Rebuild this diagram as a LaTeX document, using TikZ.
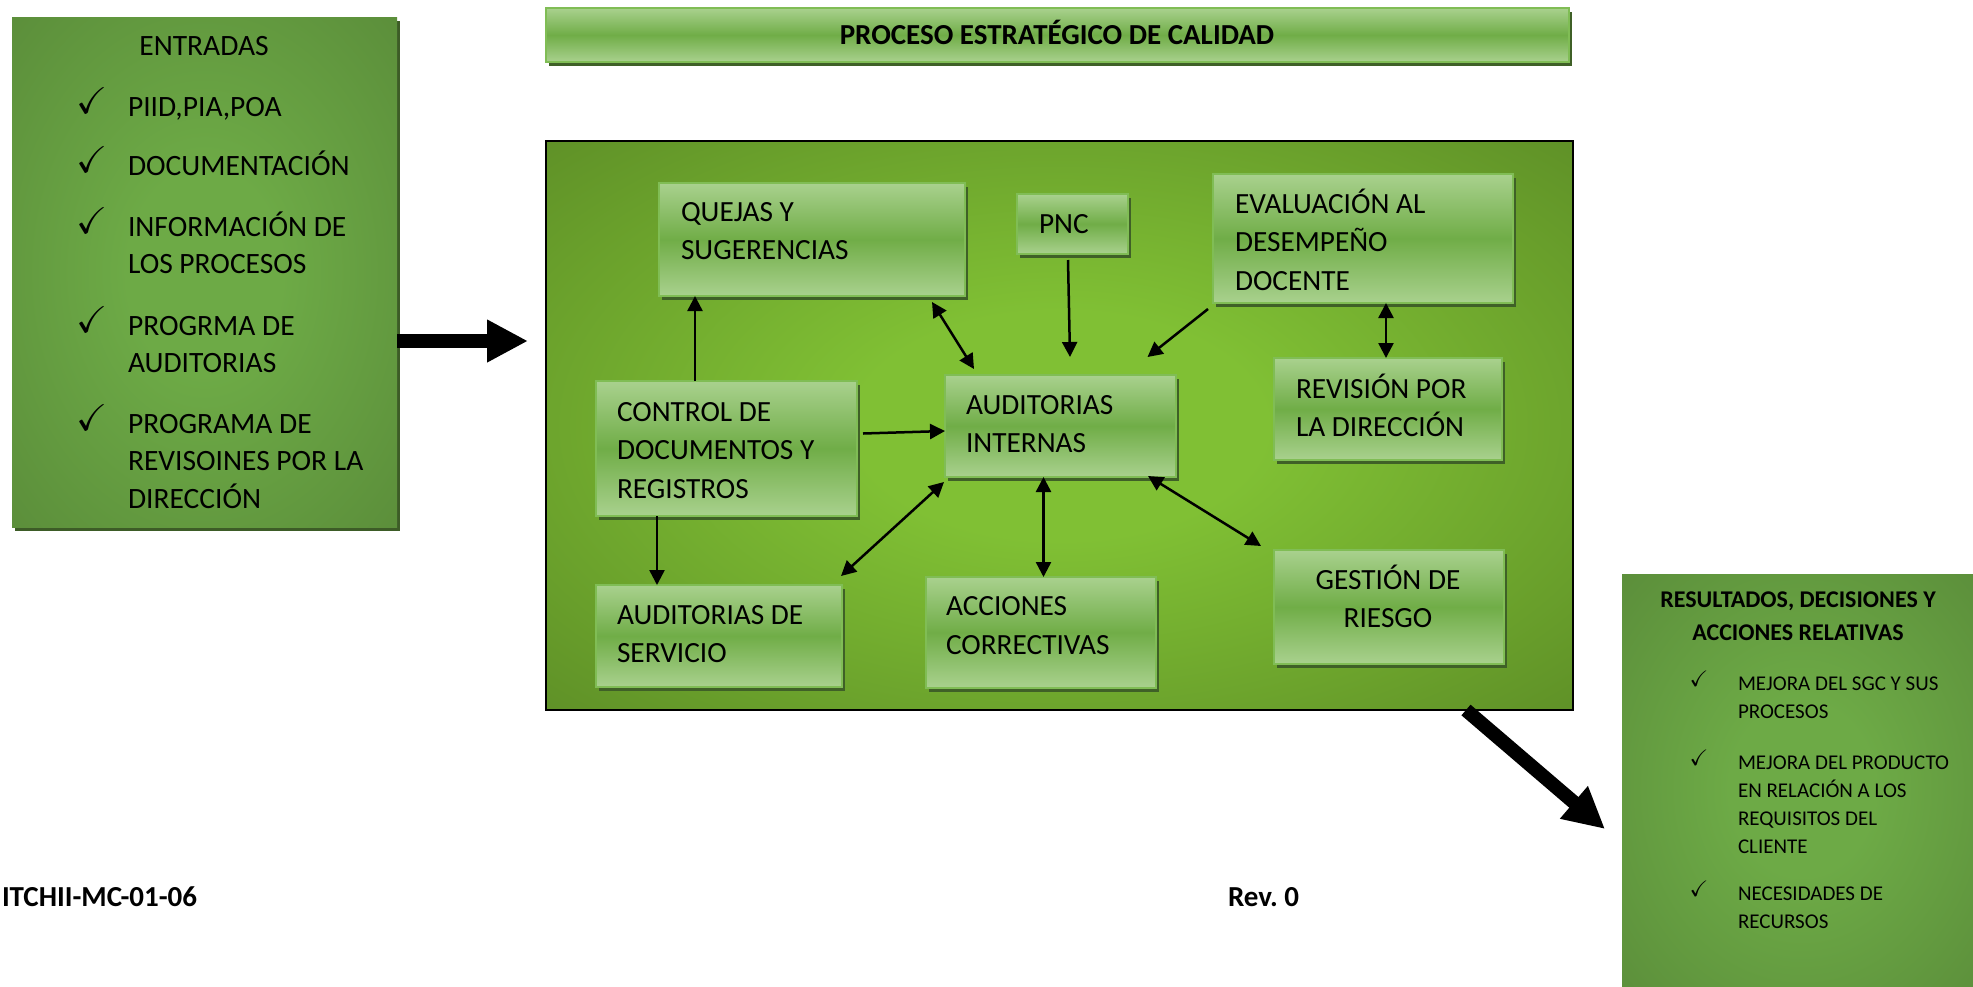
\documentclass[tikz,border=0pt]{standalone}
\usepackage{amssymb}
\usepackage{graphicx}
\usepackage{fontspec}
\setmainfont{Carlito}
\usetikzlibrary{arrows.meta,shadows}
\definecolor{boxlight}{HTML}{A9D18E}
\definecolor{boxmid}{HTML}{70AD47}
\definecolor{boxedge}{HTML}{80BD55}
\definecolor{boxshadow}{HTML}{3F6027}
\definecolor{entin}{HTML}{6DAA46}
\definecolor{entout}{HTML}{538135}
\definecolor{entshadow}{HTML}{3D5C27}
\definecolor{mainin}{HTML}{80C034}
\definecolor{mainout}{HTML}{4F7A21}
\pgfdeclareradialshading{entglow}{\pgfpoint{0bp}{0bp}}{color(0bp)=(entin); color(10bp)=(entin); color(48bp)=(entout); color(80bp)=(entout)}
\pgfdeclareradialshading{mainglow}{\pgfpoint{0bp}{0bp}}{color(0bp)=(mainin); color(10bp)=(mainin); color(48bp)=(mainout); color(80bp)=(mainout)}
\newcommand\mlines[2]{\parbox[t]{#1}{\raggedright #2}}
\newcommand\clines[2]{\parbox[t]{#1}{\centering #2}}
\newcommand\tick{\scalebox{1.5}{$\checkmark$}}
\newcommand\rtick{\scalebox{1.3}{$\checkmark$}}
\begin{document}
\begin{tikzpicture}[x=1pt,y=-1pt,
  every node/.style={inner sep=0pt, outer sep=0pt},
  entbox/.style={shade, shading=entglow, anchor=north west,
    drop shadow={shadow xshift=3pt, shadow yshift=-4pt, fill=entshadow, opacity=1}},
  ibox/.style={draw=boxedge, line width=2pt, top color=boxlight, bottom color=boxlight,
    middle color=boxmid, anchor=north west,
    drop shadow={shadow xshift=3pt, shadow yshift=-4pt, fill=boxshadow, opacity=1}},
  mainbox/.style={draw=black, line width=2.5pt, shade, shading=mainglow, anchor=north west},
  etxt/.style={font=\fontsize{29.5}{37.5}\selectfont, text=black},
  itxt/.style={font=\fontsize{29.3}{38.5}\selectfont, text=black},
  btxt/.style={font=\bfseries\fontsize{29}{35}\selectfont, text=black},
  rhead/.style={font=\bfseries\fontsize{24}{33}\selectfont, text=black},
  rtxt/.style={font=\fontsize{21}{28}\selectfont, text=black},
  chk/.style={font=\fontsize{24.88}{25}\selectfont, text=black},
  rchk/.style={font=\fontsize{17.28}{17}\selectfont, text=black},
  sarr/.style={line width=2.5pt, -{Triangle[length=15pt,width=15pt]}},
  darr/.style={line width=2.5pt, {Triangle[length=15pt,width=15pt]}-{Triangle[length=15pt,width=15pt]}},
  bigarr/.style={line width=14pt, -{Triangle[length=41pt,width=40pt]}}
]
\useasboundingbox (0,0) rectangle (1973,986);
\fill[white] (0,0) rectangle (1973,986);

% ---- ENTRADAS box
\node[entbox, minimum width=385pt, minimum height=510pt] (ent) at (12,17) {};
\node[etxt, anchor=base] (enth) at (204,55) {ENTRADAS};
\node[chk, anchor=base] (ec1) at (92,113) {\tick};
\node[chk, anchor=base] (ec2) at (92,172) {\tick};
\node[chk, anchor=base] (ec3) at (92,233) {\tick};
\node[chk, anchor=base] (ec4) at (92,332) {\tick};
\node[chk, anchor=base] (ec5) at (92,430) {\tick};
\node[etxt, anchor=base west] (e1) at (128,116) {PIID,PIA,POA};
\node[etxt, anchor=base west] (e2) at (128,175) {DOCUMENTACIÓN};
\node[etxt, anchor=base west] (e3) at (128,236) {\mlines{265pt}{INFORMACIÓN DE\\LOS PROCESOS}};
\node[etxt, anchor=base west] (e4) at (128,335) {\mlines{265pt}{PROGRMA DE\\AUDITORIAS}};
\node[etxt, anchor=base west] (e5) at (128,433) {\mlines{265pt}{PROGRAMA DE\\REVISOINES POR LA\\DIRECCIÓN}};

% ---- title
\node[ibox, minimum width=1023pt, minimum height=54pt] (title) at (546,8) {};
\node[btxt, anchor=base] (titlet) at (1057,44) {PROCESO ESTRATÉGICO DE CALIDAD};

% ---- main box
\node[mainbox, minimum width=1027pt, minimum height=569pt] (main) at (546,141) {};

% ---- inner boxes
\node[ibox, minimum width=306pt, minimum height=113pt] (quejas) at (659,183) {};
\node[itxt, anchor=base west] (quejast) at (681,221) {\mlines{260pt}{QUEJAS Y\\SUGERENCIAS}};

\node[ibox, minimum width=261pt, minimum height=135pt] (ctrl) at (596,381) {};
\node[itxt, anchor=base west] (ctrlt) at (617,421) {\mlines{240pt}{CONTROL DE\\DOCUMENTOS Y\\REGISTROS}};

\node[ibox, minimum width=246pt, minimum height=102pt] (aserv) at (596,585) {};
\node[itxt, anchor=base west] (aservt) at (617,624) {\mlines{225pt}{AUDITORIAS DE\\SERVICIO}};

\node[ibox, minimum width=231pt, minimum height=102pt] (aint) at (945,375) {};
\node[itxt, anchor=base west] (aintt) at (966,414) {\mlines{205pt}{AUDITORIAS\\INTERNAS}};

\node[ibox, minimum width=230pt, minimum height=111pt] (acc) at (926,577) {};
\node[itxt, anchor=base west] (acct) at (946,615.5) {\mlines{205pt}{ACCIONES\\CORRECTIVAS}};

\node[ibox, minimum width=111pt, minimum height=60pt] (pnc) at (1017,194) {};
\node[itxt, anchor=base west] (pnct) at (1039,233) {PNC};

\node[ibox, minimum width=300pt, minimum height=129pt] (eval) at (1213,174) {};
\node[itxt, anchor=base west] (evalt) at (1235,213) {\mlines{270pt}{EVALUACIÓN AL\\DESEMPEÑO\\DOCENTE}};

\node[ibox, minimum width=228pt, minimum height=102pt] (rev) at (1274,358) {};
\node[itxt, anchor=base west] (revt) at (1296,398) {\mlines{205pt}{REVISIÓN POR\\LA DIRECCIÓN}};

\node[ibox, minimum width=230pt, minimum height=114pt] (gest) at (1274,550) {};
\node[itxt, anchor=base] (gestt) at (1388,589) {\clines{220pt}{GESTIÓN DE\\RIESGO}};

% ---- RESULTADOS box
\node[entbox, minimum width=360pt, minimum height=430pt] (res) at (1622,574) {};
\node[rhead, anchor=base] (resh) at (1798,607) {\clines{340pt}{RESULTADOS, DECISIONES Y\\ACCIONES RELATIVAS}};
\node[rchk, anchor=base] (rc1) at (1699,686) {\rtick};
\node[rchk, anchor=base] (rc2) at (1699,765) {\rtick};
\node[rchk, anchor=base] (rc3) at (1699,896) {\rtick};
\node[rtxt, anchor=base west] (r1) at (1738,690) {\mlines{230pt}{MEJORA DEL SGC Y SUS\\PROCESOS}};
\node[rtxt, anchor=base west] (r2) at (1738,769) {\mlines{230pt}{MEJORA DEL PRODUCTO\\EN RELACIÓN A LOS\\REQUISITOS DEL\\CLIENTE}};
\node[rtxt, anchor=base west] (r3) at (1738,900) {\mlines{230pt}{NECESIDADES DE\\RECURSOS}};

% ---- footer
\node[btxt, anchor=base west] (code) at (2,906) {ITCHII-MC-01-06};
\node[btxt, anchor=base west] (revn) at (1228,906) {Rev.\ 0};

% ---- big arrows
\coordinate (aIn) at (528,341);
\draw[bigarr] (ent.east |- aIn) -- (aIn);
\coordinate (aOut) at (1605,829);
\draw[bigarr] (1466,0 |- main.south) -- (aOut);

% ---- connectors
\draw[sarr] (695,0 |- ctrl.north) -- (695,0 |- quejas.south);
\draw[sarr] (657,0 |- ctrl.south) -- (657,0 |- aserv.north);
\draw[sarr] ([xshift=6pt,yshift=15pt]ctrl.east) -- ([yshift=-5pt]aint.west);
\draw[darr] ([xshift=-33pt,yshift=-6pt]quejas.south east) -- ([xshift=29pt,yshift=6pt]aint.north west);
\draw[darr] ([xshift=-1pt,yshift=9pt]aserv.north east) -- ([xshift=-1pt,yshift=-5pt]aint.south west);
\draw[darr] (1043.5,0 |- aint.south) -- (1043.5,0 |- acc.north);
\draw[sarr] ([xshift=-4.5pt,yshift=-6pt]pnc.south) -- ([xshift=9.5pt,yshift=18pt]aint.north);
\draw[sarr] ([xshift=-5pt,yshift=-6pt]eval.south west) -- ([xshift=-28.5pt,yshift=18pt]aint.north east);
\draw[darr] (1386,0 |- eval.south) -- (1386,0 |- rev.north);
\draw[darr] ([xshift=-28pt,yshift=1pt]aint.south east) -- ([xshift=-13pt,yshift=4pt]gest.north west);
\end{tikzpicture}
\end{document}
